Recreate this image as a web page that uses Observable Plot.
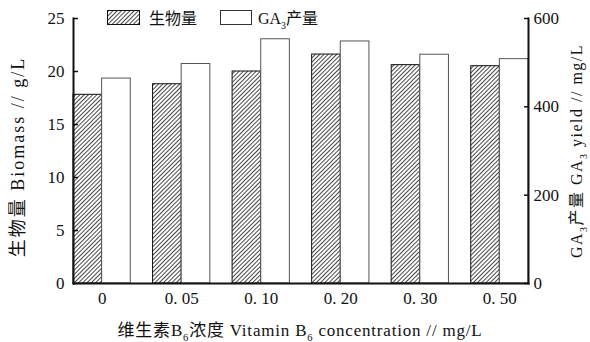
<!DOCTYPE html>
<html>
<head>
<meta charset="utf-8">
<script src="https://cdn.jsdelivr.net/npm/d3@7"></script>
<script src="https://cdn.jsdelivr.net/npm/@observablehq/plot@0.6"></script>
<style>
  html, body { margin: 0; padding: 0; background: #fff; }
  #chart svg { display: block; }
</style>
</head>
<body>
<div id="chart"></div>
<script>
// Vitamin B6 concentration (mg/L) on the x axis
const concentrations = ["0", "0.05", "0.10", "0.20", "0.30", "0.50"];
// Biomass, g/L (left axis)
const biomass = [17.8, 18.8, 20.0, 21.6, 20.6, 20.5];
// GA3 yield, mg/L (right axis)
const ga3Yield = [464, 497, 553, 548, 518, 508];
// Axis ticks
const biomassTicks = [0, 5, 10, 15, 20, 25];
const ga3Ticks = [0, 200, 400, 600];

const biomassMax = 25, ga3Max = 600;
const toLeft = v => v * biomassMax / ga3Max; // GA3 value onto the biomass scale

const rows = concentrations.map((c, i) => ({conc: c, biomass: biomass[i], ga3: ga3Yield[i]}));

const W = 590, H = 342;
const mL = 73, mR = 62, mT = 18, mB = 59;
const padInner = 0.28;
const step = (W - mL - mR) / (concentrations.length - padInner);
const half = step * (1 - padInner) / 2;

const serif = "'Liberation Serif', 'Noto Sans CJK SC', serif";

const chart = Plot.plot({
  width: W,
  height: H,
  marginLeft: mL,
  marginRight: mR,
  marginTop: mT,
  marginBottom: mB,
  style: {fontFamily: serif, fontSize: "17px", color: "#111", background: "#fff"},
  x: {domain: concentrations, paddingInner: padInner, paddingOuter: 0, round: false},
  y: {domain: [0, biomassMax]},
  marks: [
    Plot.barY(rows, {x: "conc", y: "biomass", fill: "url(#hatch)", stroke: "#111", strokeWidth: 1, insetRight: half}),
    Plot.barY(rows, {x: "conc", y: d => toLeft(d.ga3), fill: "#fff", stroke: "#555", strokeWidth: 1, insetLeft: half}),
    Plot.axisY({anchor: "left", ticks: biomassTicks, tickSize: -5, tickPadding: 14, label: null, strokeWidth: 1.5, fontSize: 17}),
    Plot.axisY({anchor: "right", ticks: ga3Ticks.map(toLeft), tickFormat: d => String(Math.round(d * ga3Max / biomassMax)), tickSize: -5, tickPadding: 10, label: null, strokeWidth: 1.5, fontSize: 17}),
    Plot.axisX({tickSize: 0, tickPadding: 8, label: null, fontSize: 17, tickFormat: d => d.replace(".", ". ")}),
    Plot.frame({anchor: "left", strokeWidth: 2}),
    Plot.frame({anchor: "right", strokeWidth: 2}),
    Plot.frame({anchor: "bottom", strokeWidth: 2})
  ]
});

document.getElementById("chart").appendChild(chart);

const svg = d3.select(chart);

// Diagonal hatch used for the biomass bars
svg.insert("defs", ":first-child")
  .append("pattern")
  .attr("id", "hatch")
  .attr("patternUnits", "userSpaceOnUse")
  .attr("width", 3).attr("height", 3)
  .attr("patternTransform", "rotate(45)")
  .call(p => p.append("rect").attr("width", 3).attr("height", 3).attr("fill", "#fff"))
  .append("line")
  .attr("x1", 0.5).attr("y1", 0).attr("x2", 0.5).attr("y2", 3)
  .attr("stroke", "#333").attr("stroke-width", 0.9);

// Text with subscript parts: parts is a list of [text, isSub]
function richText(g, parts, size, anchor = "start", spacing = 0) {
  const t = g.append("text")
    .attr("font-family", serif).attr("font-size", size).attr("fill", "#111")
    .attr("text-anchor", anchor).attr("letter-spacing", spacing);
  const shift = size * 0.3;
  let offset = 0;
  parts.forEach(([s, sub]) => {
    const span = t.append("tspan").text(s);
    if (sub) {
      span.attr("font-size", size * 0.62).attr("dy", shift - offset);
      offset = shift;
    } else if (offset) {
      span.attr("dy", -offset);
      offset = 0;
    }
  });
  return t;
}

// Axis titles
richText(svg.append("g").attr("transform", "translate(24,157) rotate(-90)"),
  [["生物量 Biomass // g/L"]], 18, "middle", 2);

richText(svg.append("g").attr("transform", "translate(582,151) rotate(-90)"),
  [["GA"], ["3", true], ["产量 GA"], ["3", true], [" yield // mg/L"]], 16, "middle", 1.5);

richText(svg.append("g").attr("transform", "translate(300,336)"),
  [["维生素B"], ["6", true], ["浓度 Vitamin B"], ["6", true], [" concentration // mg/L"]], 17, "middle", 0.8);

// Legend
const lg = svg.append("g");
lg.append("rect").attr("x", 107.5).attr("y", 10.5).attr("width", 32).attr("height", 14)
  .attr("fill", "url(#hatch)").attr("stroke", "#111");
richText(lg.append("g").attr("transform", "translate(149,24)"), [["生物量"]], 16);
lg.append("rect").attr("x", 220.5).attr("y", 10.5).attr("width", 31).attr("height", 14)
  .attr("fill", "#fff").attr("stroke", "#333");
richText(lg.append("g").attr("transform", "translate(258,24)"), [["GA"], ["3", true], ["产量"]], 16);
</script>
</body>
</html>
